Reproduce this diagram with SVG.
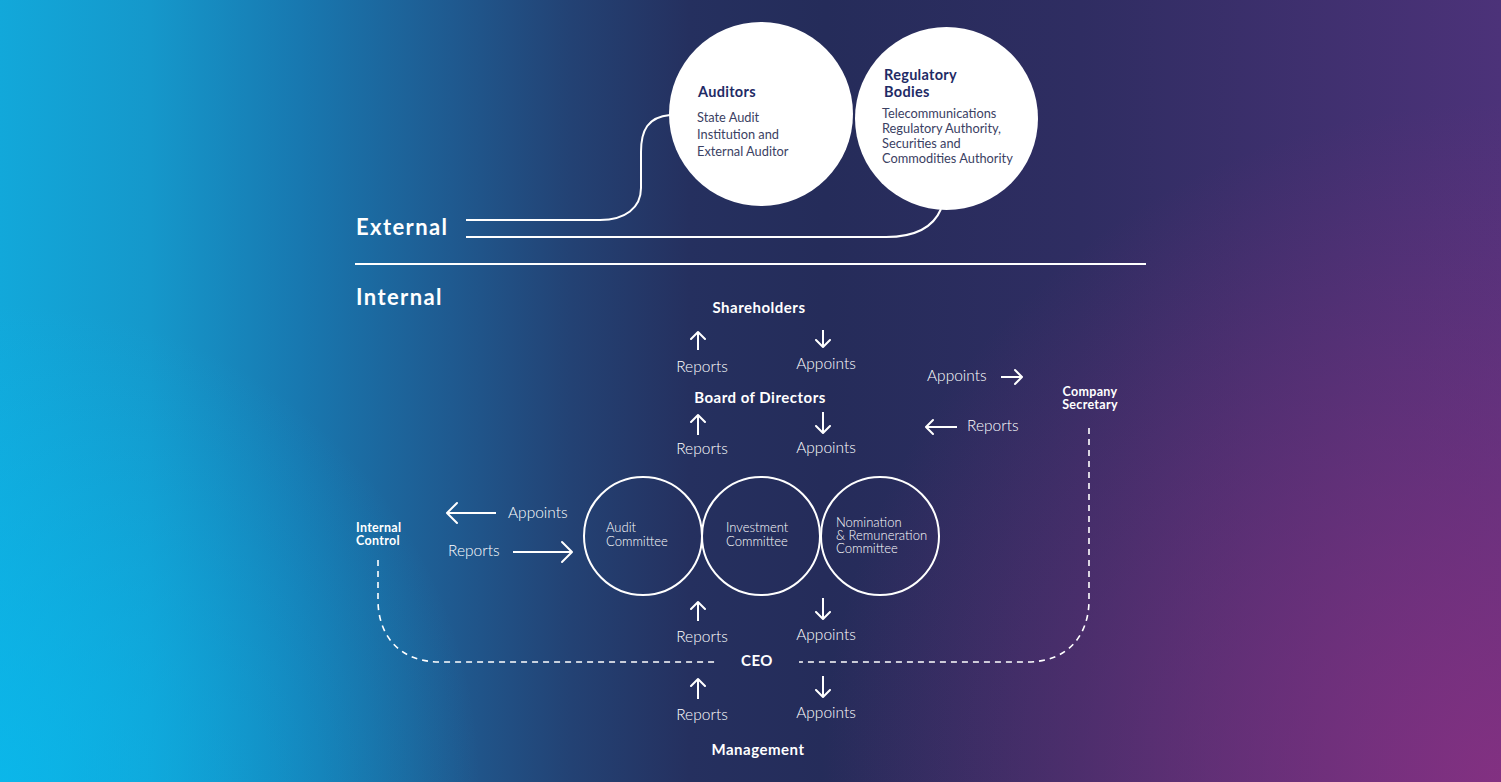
<svg xmlns="http://www.w3.org/2000/svg" width="1501" height="782" viewBox="0 0 1501 782">
<defs>
<linearGradient id="bg" x1="0" y1="0" x2="1501" y2="0" gradientUnits="userSpaceOnUse">
<stop offset="0" stop-color="#12a8da"/>
<stop offset="0.1" stop-color="#1598cb"/>
<stop offset="0.2" stop-color="#1878b0"/>
<stop offset="0.3" stop-color="#1f5a90"/>
<stop offset="0.38" stop-color="#234274"/>
<stop offset="0.46" stop-color="#25305f"/>
<stop offset="0.55" stop-color="#252c5a"/>
<stop offset="0.72" stop-color="#2f2d62"/>
<stop offset="1" stop-color="#4c3279"/>
</linearGradient>
<radialGradient id="glowR" cx="1501" cy="782" r="680" gradientUnits="userSpaceOnUse">
<stop offset="0" stop-color="#8c3083" stop-opacity="0.85"/>
<stop offset="1" stop-color="#8c3083" stop-opacity="0"/>
</radialGradient>
<radialGradient id="glowL" cx="0" cy="782" r="480" gradientUnits="userSpaceOnUse">
<stop offset="0" stop-color="#08bdf0" stop-opacity="0.7"/>
<stop offset="1" stop-color="#08bdf0" stop-opacity="0"/>
</radialGradient>
<marker id="ah" markerUnits="userSpaceOnUse" markerWidth="10" markerHeight="18" viewBox="0 0 10 18" refX="8" refY="9" orient="auto">
<path d="M1,2 L8,9 L1,16" fill="none" stroke="#fff" stroke-width="2" stroke-linecap="round" stroke-linejoin="round"/>
</marker>
<marker id="ahL" markerUnits="userSpaceOnUse" markerWidth="14" markerHeight="24" viewBox="0 0 14 24" refX="12" refY="12" orient="auto">
<path d="M2,2 L12,12 L2,22" fill="none" stroke="#fff" stroke-width="2" stroke-linecap="round" stroke-linejoin="round"/>
</marker>
</defs>
<style>
text { font-family: Lato, "Open Sans", "Liberation Sans", sans-serif; }
.hd { fill: #fff; font-weight: 700; font-size: 22px; letter-spacing: 1.4px; }
.nb { fill: #fff; font-weight: 700; font-size: 15px; letter-spacing: 0.5px; text-anchor: middle; }
.sb { fill: #fff; font-weight: 700; font-size: 12.5px; letter-spacing: 0.3px; }
.lb { fill: #fff; font-weight: 300; font-size: 15.5px; }
.lbm { fill: #fff; font-weight: 300; font-size: 15.5px; text-anchor: middle; }
.ct { fill: #fff; font-weight: 300; font-size: 13px; }
.ot { fill: #1f2b66; font-weight: 700; font-size: 14.5px; letter-spacing: 0.3px; }
.ob { fill: #3b4163; font-weight: 400; font-size: 12.8px; }
.ln { fill: none; stroke: #fff; stroke-width: 2; }
.ar { fill: none; stroke: #fff; stroke-width: 2; marker-end: url(#ah); }
.arL { fill: none; stroke: #fff; stroke-width: 2; marker-end: url(#ahL); }
.dash { fill: none; stroke: #fff; stroke-width: 1.6; stroke-dasharray: 6 5; }
.cc { fill: none; stroke: #fff; stroke-width: 2; }
</style>
<rect width="1501" height="782" fill="url(#bg)"/>
<rect width="1501" height="782" fill="url(#glowR)"/>
<rect width="1501" height="782" fill="url(#glowL)"/>

<g id="connectors">
<path class="ln" d="M670 115 C648 117 641 130 641 152 L641 188 C641 208 625 220 600 220 L466 220"/>
<path class="ln" d="M941 209 C933 228 915 237 886 237 L466 237"/>
<path class="ln" d="M355 264 H1146"/>
<path class="dash" d="M378 560 V600 C378 636 400 662 440 662 H717"/>
<path class="dash" d="M1089 428 V600 C1089 636 1067 662 1027 662 H799"/>
<path class="ar" d="M698 350 V332"/>
<path class="ar" d="M698 435 V415"/>
<path class="ar" d="M698 621 V602"/>
<path class="ar" d="M698 699 V679"/>
<path class="ar" d="M823 330 V347"/>
<path class="ar" d="M823 412 V433"/>
<path class="ar" d="M823 598 V619"/>
<path class="ar" d="M823 676 V697"/>
<path class="ar" d="M1001 377 H1022"/>
<path class="ar" d="M957 427 H926"/>
<path class="arL" d="M496 513 H447"/>
<path class="arL" d="M513 552 H572"/>
</g>

<g id="external-label"><text class="hd" x="356" y="235">External</text></g>
<g id="internal-label"><text class="hd" x="356" y="305">Internal</text></g>

<g id="auditors">
<circle cx="761" cy="114" r="92" fill="#fff"/>
<text class="ot" x="698" y="97">Auditors</text>
<text class="ob" x="697" y="122">State Audit</text>
<text class="ob" x="697" y="139">Institution and</text>
<text class="ob" x="697" y="156">External Auditor</text>
</g>
<g id="regulatory">
<circle cx="946.5" cy="118.5" r="91.5" fill="#fff"/>
<text class="ot" x="884" y="80">Regulatory</text>
<text class="ot" x="884" y="97">Bodies</text>
<text class="ob" x="882" y="118">Telecommunications</text>
<text class="ob" x="882" y="133">Regulatory Authority,</text>
<text class="ob" x="882" y="148">Securities and</text>
<text class="ob" x="882" y="163">Commodities Authority</text>
</g>

<g id="shareholders"><text class="nb" x="759" y="313">Shareholders</text></g>
<g id="board"><text class="nb" x="760" y="403">Board of Directors</text></g>
<g id="ceo"><text class="nb" x="757" y="666">CEO</text></g>
<g id="management"><text class="nb" x="758" y="755">Management</text></g>
<g id="company-secretary">
<text class="sb" x="1090" y="396" text-anchor="middle">Company</text>
<text class="sb" x="1090" y="409" text-anchor="middle">Secretary</text>
</g>
<g id="internal-control">
<text class="sb" x="356" y="532">Internal</text>
<text class="sb" x="356" y="545">Control</text>
</g>

<g id="audit-committee">
<circle class="cc" cx="643" cy="536" r="59"/>
<text class="ct" x="606" y="532">Audit</text>
<text class="ct" x="606" y="546">Committee</text>
</g>
<g id="investment-committee">
<circle class="cc" cx="761" cy="536" r="59"/>
<text class="ct" x="726" y="532">Investment</text>
<text class="ct" x="726" y="546">Committee</text>
</g>
<g id="nomination-committee">
<circle class="cc" cx="880" cy="536" r="59"/>
<text class="ct" x="836" y="527">Nomination</text>
<text class="ct" x="836" y="540">&amp; Remuneration</text>
<text class="ct" x="836" y="553">Committee</text>
</g>

<g id="labels">
<text class="lbm" x="702" y="372">Reports</text>
<text class="lbm" x="826" y="369">Appoints</text>
<text class="lbm" x="702" y="454">Reports</text>
<text class="lbm" x="826" y="453">Appoints</text>
<text class="lbm" x="702" y="642">Reports</text>
<text class="lbm" x="826" y="640">Appoints</text>
<text class="lbm" x="702" y="720">Reports</text>
<text class="lbm" x="826" y="718">Appoints</text>
<text class="lb" x="927" y="381">Appoints</text>
<text class="lb" x="967" y="431">Reports</text>
<text class="lb" x="508" y="518">Appoints</text>
<text class="lb" x="448" y="556">Reports</text>
</g>
</svg>
